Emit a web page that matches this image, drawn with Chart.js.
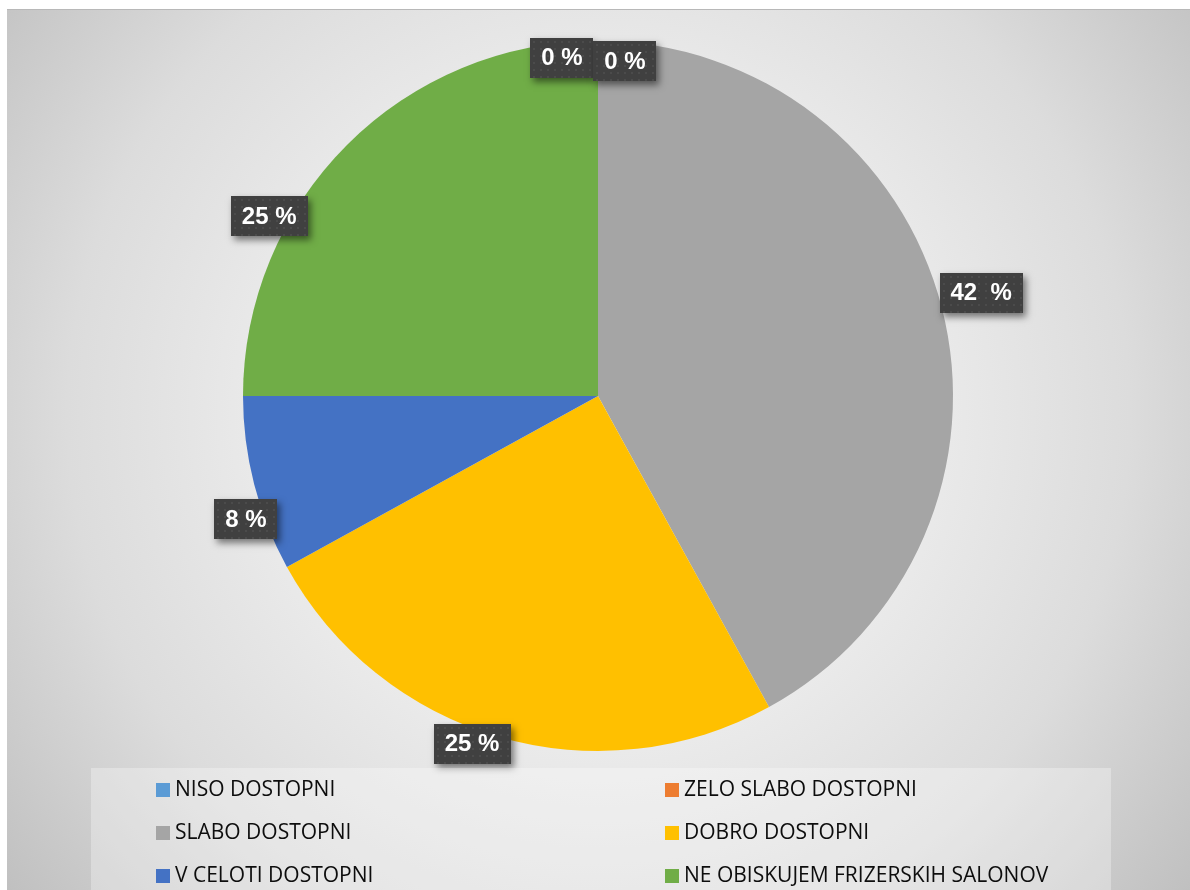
<!DOCTYPE html>
<html>
<head>
<meta charset="utf-8">
<script src="https://cdn.jsdelivr.net/npm/chart.js@4.4.1/dist/chart.umd.min.js"></script>
<style>
html, body { margin: 0; padding: 0; background: #fff; width: 1190px; height: 890px; overflow: hidden; }
#frame {
    position: absolute; left: 7px; top: 9px; width: 1183px; height: 881px;
    background: radial-gradient(circle farthest-corner at 50% 46%, #ffffff 0%, #f2f2f2 30%, #dcdcdc 70%, #c0c0c0 100%);
    box-shadow: inset 0 1px 0 #b8b8b8;
}
#pie { position: absolute; left: 0; top: 0; }
#legend {
    position: absolute; left: 84px; top: 759px; width: 1020px; height: 122px;
    background: rgba(255, 255, 255, 0.3);
}
.item {
    position: absolute; height: 24px; line-height: 24px; white-space: nowrap;
    font-family: "Open Sans", sans-serif; font-size: 21px; color: #0d0d0d;
}
.item i { display: inline-block; width: 14px; height: 14px; margin-right: 5px; vertical-align: -1px; }
</style>
</head>
<body>
<div id="frame">
    <canvas id="pie" width="1183" height="881"></canvas>
    <div id="legend"></div>
</div>
<script>
// Categories and shares (percent)
const categories = [
    'NISO DOSTOPNI',
    'ZELO SLABO DOSTOPNI',
    'SLABO DOSTOPNI',
    'DOBRO DOSTOPNI',
    'V CELOTI DOSTOPNI',
    'NE OBISKUJEM FRIZERSKIH SALONOV'
];
const shares = [0, 0, 42, 25, 8, 25];
const shareLabels = ['0 %', '0 %', '42  %', '25 %', '8 %', '25 %'];
const sliceColors = ['#5B9BD5', '#ED7D31', '#A5A5A5', '#FFC000', '#4472C4', '#70AD47'];

// Dark percent boxes placed around each slice
const pctBoxes = {
    id: 'pctBoxes',
    afterDatasetsDraw(chart, args, opts) {
        const ctx = chart.ctx;
        const meta = chart.getDatasetMeta(0);
        meta.data.forEach((arc, i) => {
            const p = arc.getProps(['x', 'y', 'startAngle', 'endAngle', 'outerRadius'], true);
            const spot = opts.spots[i];
            const a = (p.startAngle + p.endAngle) / 2 + spot[0] * Math.PI / 180;
            const r = p.outerRadius * spot[1];
            const cx = p.x + Math.cos(a) * r;
            const cy = p.y + Math.sin(a) * r;
            const text = opts.texts[i];

            ctx.save();
            ctx.font = 'bold 24px "Liberation Sans", Arial, sans-serif';
            const w = Math.round(ctx.measureText(text).width + 22);
            const h = 40;
            const x0 = Math.round(cx - w / 2), y0 = Math.round(cy - h / 2);
            ctx.shadowColor = 'rgba(0, 0, 0, 0.5)';
            ctx.shadowBlur = 7;
            ctx.shadowOffsetX = 3;
            ctx.shadowOffsetY = 4;
            ctx.fillStyle = '#404040';
            ctx.fillRect(x0, y0, w, h);
            ctx.shadowColor = 'transparent';
            // faint dot texture
            ctx.fillStyle = 'rgba(255, 255, 255, 0.06)';
            for (let yy = y0 + 3; yy < y0 + h; yy += 7) {
                for (let xx = x0 + 3; xx < x0 + w; xx += 7) {
                    ctx.fillRect(xx, yy, 2, 2);
                }
            }
            ctx.fillStyle = '#ffffff';
            ctx.textAlign = 'center';
            ctx.textBaseline = 'middle';
            ctx.fillText(text, cx, cy + 1);
            ctx.restore();
        });
    }
};

const chart = new Chart(document.getElementById('pie'), {
    type: 'pie',
    data: {
        labels: categories,
        datasets: [{
            data: shares,
            backgroundColor: sliceColors,
            borderWidth: 0,
            hoverOffset: 0
        }]
    },
    options: {
        responsive: false,
        animation: false,
        layout: { padding: { top: 32, bottom: 139, left: 236, right: 237 } },
        plugins: {
            legend: { display: false },
            tooltip: { enabled: false },
            pctBoxes: {
                texts: shareLabels,
                // [angle offset from slice middle in degrees, radius factor]
                spots: [[-6.1, 0.958], [4.6, 0.946], [-0.7, 1.118], [3.7, 1.042], [-4.9, 1.051], [-16.3, 1.056]]
            }
        }
    },
    plugins: [pctBoxes]
});

// Legend in two columns, Excel style
const legend = document.getElementById('legend');
chart.data.labels.forEach((label, i) => {
    const item = document.createElement('div');
    item.className = 'item';
    item.style.left = (i % 2 === 0 ? 65 : 574) + 'px';
    item.style.top = (8 + Math.floor(i / 2) * 43) + 'px';
    const sw = document.createElement('i');
    sw.style.background = sliceColors[i];
    item.appendChild(sw);
    item.appendChild(document.createTextNode(label));
    legend.appendChild(item);
});
</script>
</body>
</html>
